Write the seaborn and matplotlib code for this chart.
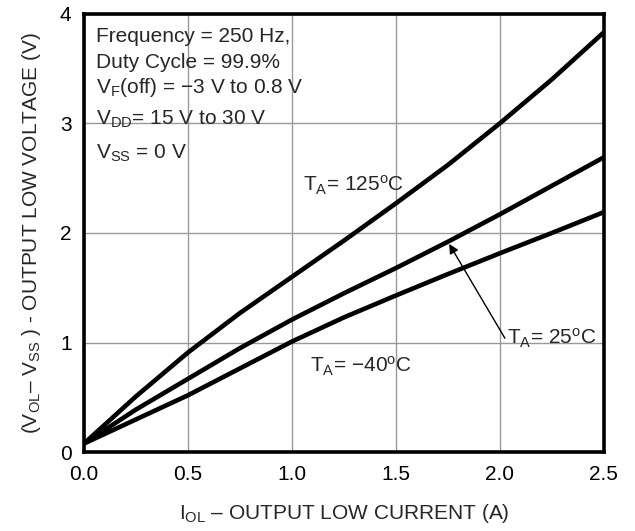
import numpy as np
import pandas as pd
import matplotlib
matplotlib.use("Agg")
import matplotlib.pyplot as plt
import seaborn as sns

# values
current_a = [0.0, 0.25, 0.5, 0.75, 1.0, 1.25, 1.5, 1.75, 2.0, 2.25, 2.5]
v_125c = [0.08, 0.51, 0.91, 1.27, 1.60, 1.93, 2.27, 2.62, 3.00, 3.40, 3.83]
v_25c = [0.08, 0.39, 0.67, 0.95, 1.21, 1.45, 1.68, 1.92, 2.17, 2.43, 2.69]
v_m40c = [0.08, 0.30, 0.52, 0.765, 1.01, 1.23, 1.43, 1.625, 1.815, 2.00, 2.19]
x_ticks = [0.0, 0.5, 1.0, 1.5, 2.0, 2.5]
y_ticks = [0, 1, 2, 3, 4]

conditions = [
    "Frequency = 250 Hz,",
    "Duty Cycle = 99.9%",
    r"$\mathregular{V_F}$(off) = −3 V to 0.8 V",
    r"$\mathregular{V_{DD}}$= 15 V to 30 V",
    r"$\mathregular{V_{SS}}$ = 0 V",
]

df = pd.DataFrame({
    "current": current_a * 3,
    "voltage": v_125c + v_25c + v_m40c,
    "temp": ["125"] * len(current_a) + ["25"] * len(current_a) + ["-40"] * len(current_a),
})

sns.set_style("white")
plt.rcParams["font.family"] = ["Liberation Sans", "DejaVu Sans"]
plt.rcParams["mathtext.fontset"] = "custom"
plt.rcParams["mathtext.rm"] = "Liberation Sans"
plt.rcParams["mathtext.it"] = "Liberation Sans:italic"

fs = 15

fig = plt.figure(figsize=(6.35, 5.31), dpi=100)
ax = fig.add_axes([0.1323, 0.1482, 0.8187, 0.8262])

sns.lineplot(data=df, x="current", y="voltage", hue="temp",
             palette=["black", "black", "black"], linewidth=3.3,
             legend=False, ax=ax)

ax.set_xlim(0, 2.5)
ax.set_ylim(0, 4)
ax.set_xticks(x_ticks)
ax.set_xticklabels([f"{t:.1f}" for t in x_ticks])
ax.set_yticks(y_ticks)
ax.set_yticklabels([str(t) for t in y_ticks])
ax.grid(True, color="#999999", linewidth=1.0)
ax.tick_params(axis="x", length=0, labelsize=fs, pad=9, colors="black")
ax.tick_params(axis="y", length=0, labelsize=fs, pad=9, colors="black")
for sp in ax.spines.values():
    sp.set_visible(True)
    sp.set_color("black")
    sp.set_linewidth(2.6)

ax.set_xlabel(r"$\mathregular{I_{OL}}$ – OUTPUT LOW CURRENT (A)", fontsize=fs, labelpad=13)
ax.set_ylabel(r"($\mathregular{V_{OL}}$– $\mathregular{V_{SS}}$ ) - OUTPUT LOW VOLTAGE (V)",
              fontsize=fs, labelpad=12)

baselines = [3.743, 3.500, 3.272, 2.984, 2.680]
for txt, yb in zip(conditions, baselines):
    ax.text(0.06, yb, txt, fontsize=fs, va="baseline", ha="left")

ax.text(1.055, 2.376, r"$\mathregular{T_A}$= 125$\mathregular{^o}$C", fontsize=fs, va="baseline")
ax.text(1.087, 0.726, r"$\mathregular{T_A}$= −40$\mathregular{^o}$C", fontsize=fs, va="baseline")
ax.text(2.035, 0.987, r"$\mathregular{T_A}$= 25$\mathregular{^o}$C", fontsize=fs, va="baseline")
ax.annotate("", xy=(1.756, 1.90), xytext=(2.024, 1.04),
            arrowprops=dict(arrowstyle="-|>", color="black", lw=1.0,
                            mutation_scale=14, shrinkA=0, shrinkB=0))

fig.savefig("out.png", dpi=100)
